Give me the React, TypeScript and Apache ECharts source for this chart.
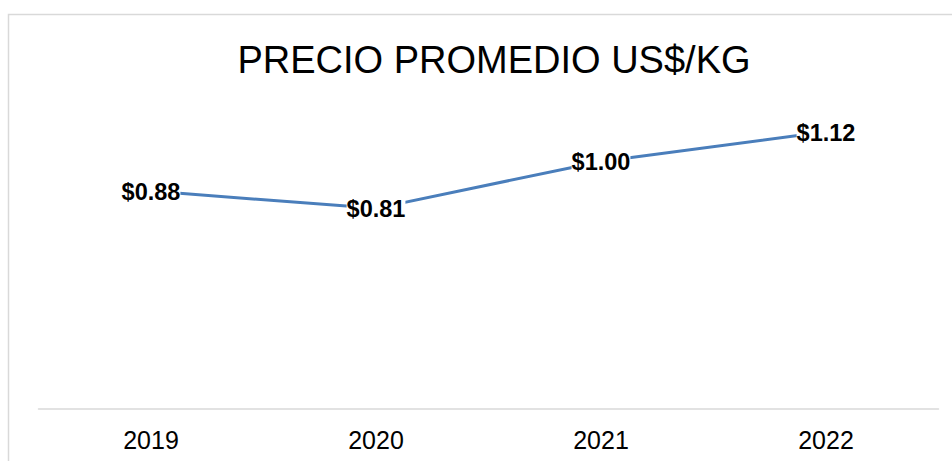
import React, { useEffect, useRef } from "react";
import * as echarts from "echarts";

const titleText = "PRECIO PROMEDIO US$/KG";
const years = ["2019", "2020", "2021", "2022"];
const prices = [0.88, 0.81, 1.0, 1.12];

const FONT = "'Liberation Sans', Arial, sans-serif";

export default function App() {
  const ref = useRef<HTMLDivElement>(null);
  useEffect(() => {
    if (!ref.current) return;
    const chart = echarts.init(ref.current, undefined, { renderer: "svg" });
    chart.setOption({
      animation: false,
      backgroundColor: "#ffffff",
      title: {
        text: titleText,
        left: 489,
        top: 36,
        textAlign: "center",
        textStyle: { fontFamily: FONT, fontSize: 38, fontWeight: "normal", color: "#000" },
      },
      graphic: [
        {
          type: "rect",
          shape: { x: 8.5, y: 14.5, width: 960, height: 460 },
          style: { fill: "none", stroke: "#d9d9d9", lineWidth: 1.5 },
          silent: true,
          z: -1,
        },
      ],
      grid: { left: 38.5, top: 112, width: 900, height: 296.5, containLabel: false },
      xAxis: {
        type: "category",
        data: years,
        boundaryGap: true,
        axisLine: { show: true, lineStyle: { color: "#d9d9d9", width: 1.5 } },
        axisTick: { show: false },
        axisLabel: { fontFamily: FONT, fontSize: 25, color: "#000", margin: 19 },
        splitLine: { show: false },
      },
      yAxis: {
        type: "value",
        min: 0,
        max: 1.2,
        show: false,
        splitLine: { show: false },
      },
      series: [
        {
          type: "line",
          data: prices,
          showSymbol: true,
          symbol: "circle",
          symbolSize: 1,
          itemStyle: { color: "rgba(0,0,0,0)" },
          lineStyle: { color: "#4a7ebb", width: 3 },
          label: {
            show: true,
            position: "inside",
            offset: [0, 1],
            formatter: (p: any) => "$" + Number(p.value).toFixed(2),
            fontFamily: FONT,
            fontSize: 23.5,
            fontWeight: "bold",
            color: "#000",
            backgroundColor: "#ffffff",
            padding: 0,
          },
        },
      ],
    });
    return () => chart.dispose();
  }, []);
  return (
    <div
      ref={ref}
      style={{ position: "fixed", left: 0, top: 0, width: 952, height: 461 }}
    />
  );
}
